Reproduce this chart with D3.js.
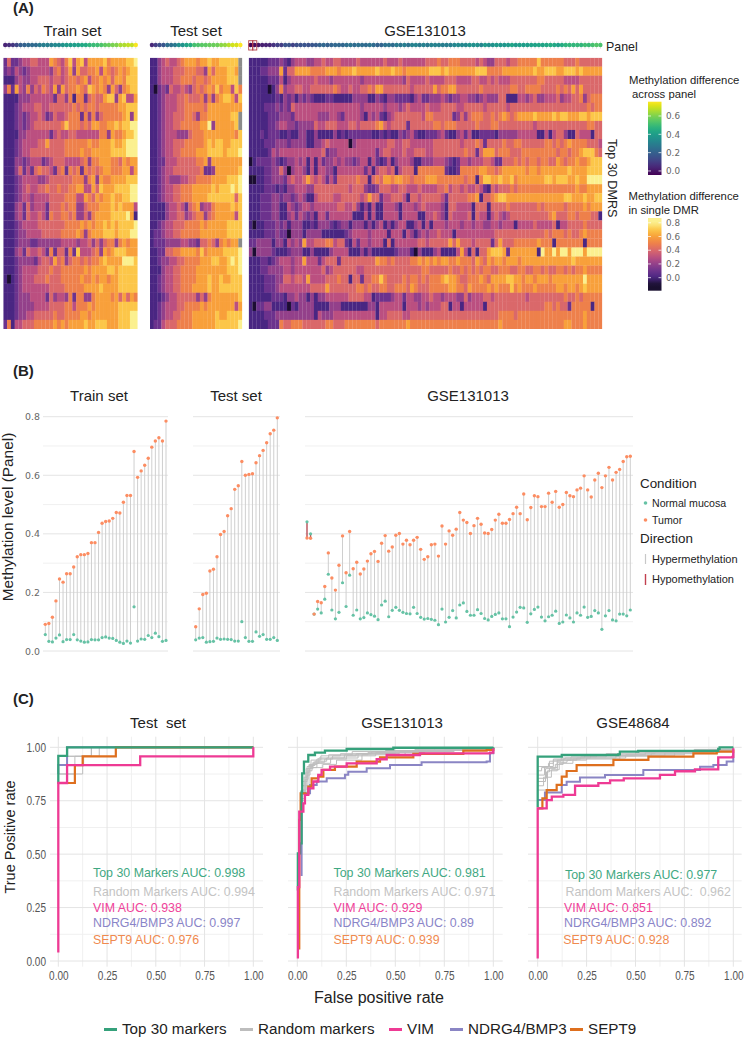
<!DOCTYPE html>
<html><head><meta charset="utf-8">
<script src="https://cdnjs.cloudflare.com/ajax/libs/d3/7.8.5/d3.min.js"></script>
<style>
html,body{margin:0;padding:0;background:#fff}
svg{display:block}
text{font-family:"Liberation Sans",Arial,sans-serif;fill:#222;white-space:pre}
.num{font-family:"DejaVu Sans",sans-serif;fill:#666}
.nar text{font-family:"Liberation Sans",sans-serif;fill:#555}
</style></head><body>
<svg id="c" width="744" height="1038"></svg>
<script>
// ---------- Panel B values (also colour the panel strip in A)
const trainTumor=[.091,.094,.115,.171,.246,.235,.264,.264,.287,.322,.329,.329,.333,.370,.370,.405,.436,.442,.444,.453,.473,.471,.508,.531,.531,.681,.593,.615,.634,.658,.696,.717,.728,.717,.785];
const trainNormal=[.056,.033,.031,.044,.055,.032,.039,.039,.056,.038,.034,.030,.031,.039,.038,.038,.046,.048,.044,.043,.036,.030,.026,.034,.027,.151,.034,.041,.040,.053,.046,.061,.049,.033,.036];
const testTumor=[.083,.144,.193,.197,.273,.279,.322,.398,.408,.462,.486,.552,.564,.647,.600,.603,.605,.643,.667,.685,.711,.742,.754,.796];
const testNormal=[.038,.044,.046,.030,.032,.033,.044,.040,.041,.040,.039,.034,.034,.100,.046,.033,.033,.065,.050,.056,.040,.040,.046,.036];
const gseTumor=[.386,.385,.126,.169,.165,.220,.335,.249,.208,.293,.393,.267,.408,.281,.303,.263,.280,.307,.332,.340,.306,.368,.394,.341,.355,.395,.401,.365,.378,.363,.378,.388,.347,.313,.322,.363,.365,.324,.427,.365,.410,.395,.416,.473,.447,.439,.401,.428,.453,.433,.403,.401,.415,.447,.467,.436,.436,.449,.469,.491,.469,.536,.448,.490,.530,.527,.493,.493,.539,.508,.545,.491,.500,.541,.530,.527,.550,.556,.598,.550,.526,.584,.607,.558,.598,.627,.584,.610,.620,.647,.663,.665];
const gseNormal=[.441,.400,.126,.143,.130,.177,.262,.140,.110,.132,.233,.152,.259,.122,.140,.110,.114,.130,.124,.119,.107,.157,.170,.117,.139,.149,.139,.132,.128,.127,.149,.128,.115,.109,.111,.108,.105,.090,.143,.099,.115,.138,.113,.157,.164,.135,.122,.122,.141,.128,.111,.106,.118,.125,.130,.110,.110,.083,.116,.133,.149,.147,.098,.127,.142,.150,.116,.103,.117,.122,.136,.094,.099,.123,.113,.099,.130,.122,.150,.115,.118,.138,.130,.074,.120,.138,.106,.103,.126,.126,.120,.140];
const methTicks=[0,.2,.4,.6,.8];

// ---------- Panel A heatmap: one digit per cell, value = (digit-1)/10, x = missing
const heatTrain=[
"2522344554 4476546847 8477778677 77889",
"2324323444 4435645737 5566747656 76788",
"1113433445 5545545665 6746676757 76888",
"3627436354 6547375667 6587676375 36788",
"1111333444 4442553616 6256557883 78447",
"1112344455 4455555565 6566566666 77888",
"1112323445 4235445666 2636356666 67838",
"1112323455 5555568666 5657766778 78899",
"1111334444 4424544554 4444466376 67889",
"1112344445 5755556666 6676677787 78999",
"1112344555 5555556666 7667777788 88999",
"1113323444 2345554444 5636677766 57677",
"1113524256 5542562656 2656567766 67747",
"1112344443 3455555566 6367376677 77888",
"1112345445 5655655667 7447587778 88899",
"1112344344 4455556664 4765767787 78899",
"1113425344 4255565663 3566677787 87774",
"1113425445 4265566563 3536777788 88971",
"1112344445 5555556666 7676778787 88889",
"1112334444 5555566667 6367778887 88899",
"1112333223 3333344443 4453535663 67677",
"1113425445 4262552628 4445637678 88777",
"1112333324 5547563566 5656678777 79998",
"1112344445 5565566666 6767777887 88888",
"1012344455 5655566666 7667677677 88888",
"1112344444 4455556666 6777787777 88888",
"1112333444 4253443626 6336777767 57576",
"1112333344 4455556646 6676777777 88888",
"1112334455 5556556666 7767777777 88899",
"2614455566 6667676777 7877888777 88899"];
const heatTest=[
"1134544567 7767787788 888x",
"1134445556 6655375777 887x",
"1134445566 6566567777 888x",
"1023254454 3565676867 7486",
"1123444556 5556363678 8748",
"1123444556 6666577777 7777",
"1123445556 6536677777 788x",
"1123445566 6667793777 778x",
"1123444333 5666777777 7768",
"1123445556 6666787887 7888",
"1123445566 6677788887 8889",
"1122444555 5566737777 7777",
"1123445555 5556223777 7778",
"1123433344 5566667777 8889",
"1123445566 6777778788 8989",
"1123445566 6777788888 8858",
"1111344542 5673446777 7878",
"1111344553 4566356777 7748",
"1123445556 6667677777 8888",
"1223445566 6667777777 8888",
"1222333344 3325565367 677x",
"1122556677 7768677778 8889",
"1123344556 6667778877 8989",
"1113445566 6677777777 8889",
"1123445566 6677787787 7888",
"1123445566 6777787788 8888",
"1112344555 5535367777 7778",
"1123444556 6667677777 7747",
"1123445566 6777777877 8888",
"1224555666 6777777888 8889"];
const heatGse=[
"1111122232 1344433445 4455444454 4444454445 4444445556 5566655554 5433555455 6666686666 6655565555 55",
"1112233372 5577776666 7776777877 7778777877 6777777888 7877777778 8866667777 7777877888 7788878777 77",
"1111122241 3444444544 4344444443 4444444444 3544445444 4555444455 4454544455 5555566555 5544445555 55",
"1111101363 4455445555 5565445445 5657755555 5545555575 6677555555 6555555566 5566665555 6565757555 55",
"1111111213 2313232111 2211111333 3113213322 2213422333 4323344332 3433355111 4434533444 5344556356 66",
"1111222323 2544444444 4444444443 4444434443 4544445444 5555445555 5455555455 5555555555 5555555565 66",
"1111122233 3244444433 3443244443 1434213455 5555546655 5552353566 6556567656 7777877778 7887778878 88",
"1111122344 3323333544 5554445545 5556754555 5255555566 5666555556 5556655555 5555455555 5555555566 55",
"1112122211 2113311311 1131212222 2211212113 2342112223 4211342411 2222133333 4444411414 5531154441 55",
"1111222333 2333311334 5444440344 4444445544 5544444455 5555545556 5255556556 6555555665 6567666655 54",
"1111124344 4444444445 2334444444 4442455444 5445554455 5555556552 5777566655 5666666666 5665667888 65",
"0122223212 3343414142 3343433234 4142124134 4431133344 4321244344 4554225556 5656656655 7656676678 88",
"1111223353 0344314144 3314444444 2414554514 5551666666 6211266666 7766567777 7767767777 7778777788 88",
"0011223332 4544575454 2425555565 5156577677 6656667776 6666665661 6887787786 7777777887 8887787799 99",
"1111222121 3344433555 5555554555 3223555445 5444544445 5645545445 4215455565 6666666666 6666676677 77",
"1112223323 3234311455 5544555554 5755244555 4155455555 4255555667 1556788777 7777777777 7788777877 88",
"1112223311 4323443444 4445544531 3141144431 4443454444 3155444415 5515555655 5555565666 6656666767 77",
"1112223311 3424323144 2444444111 4141144441 4444114454 3154444515 4414543455 5555555567 5556656665 51",
"1011222323 1333112133 3212331333 1313413134 4113414144 4344434434 4334434441 4444544445 1445555655 55",
"1111222322 0333133331 1111123444 4344441444 1431343445 4441444444 4444555555 5555555656 6656556766 66",
"2233331331 4343744555 6645521424 4344415144 4444554555 5575755545 5552575556 6666676661 6666666166 66",
"3033332111 2333113111 1344441113 1311111123 3310311134 1111474151 5578887277 7777719779 7997999799 99",
"1112212344 4344744424 5552555555 5557665655 5566767676 7766766657 6576776777 6777777777 7777877777 77",
"1112233334 4344444445 3455555544 5555555555 5555566555 5565565656 5665566655 6655665655 6656566766 66",
"1111222335 5455474444 5556551552 5566865555 6566565666 7877655666 7657777887 7677677767 7777777977 77",
"1111222344 4444445555 7555555566 5655665566 6576555666 6677665766 6676766686 7666766666 7767767877 77",
"1111112221 3343313133 4444445555 4412222344 2443344544 3444335344 4554555555 5545555555 5565565666 66",
"1022331111 0213333111 1333111111 1331444444 1444343444 5514414444 4155555555 5555555665 6552666661 66",
"1111222333 3333333143 3344444444 4441445555 4455555555 5555555555 5555566665 6666666666 6666666766 66",
"1111122265 5666555555 6655566666 6665666666 6766666666 6666666666 6666676666 6666666666 6677666766 66"];
const heatValues=[-.1,0,.1,.2,.3,.4,.5,.6,.7,.8];
const heatColors=["#1a1030","#4a2682","#6c338d","#93408a","#bb5080","#da686a","#ee804b","#f8a03a","#fcc648","#fbf08f"];
const heatLegendTicks=[0,.2,.4,.6,.8];
const panelLegendTicks=[0,.2,.4,.6];

// ---------- Panel C ROC curves: [fpr...],[tpr...]
const rocTicks=[0,.25,.5,.75,1];
const rocMinor=[.125,.375,.625,.875];
const t1Top30=[[0,0,.045,1],[.83,.96,1,1]];
const t1Vim=[[0,0,.045,.42,1,1],[.04,.833,.917,.958,.958,1]];
const t1Sept9=[[0,.085,.125,.295,1],[.833,.917,.958,1,1]];
const t1Ndrg=[[0,0,.045,1],[.875,.917,1,1]];
const t1Random=[[[0,.045,.085,.125,.17,1],[.875,.917,.958,.958,1,1]],[[0,.045,.085,.13,.17,1],[.833,.875,.917,.958,1,1]],[[0,.045,.125,.17,1],[.917,.958,.958,1,1]],[[0,.045,.085,.17,1],[.958,.958,.958,1,1]],[[0,.085,.125,.21,1],[.875,.875,.958,1,1]]];
const t2Top30=[[.003,.003,.014,.022,.025,.034,.056,.09,.141,.252,.49,1],[.33,.504,.55,.792,.878,.933,.964,.975,.984,.992,.998,1]];
const t2Vim=[[.003,.003,.01,.031,.039,.056,.082,.107,.124,.167,.252,.405,.456,.626,.983,1],[.012,.346,.699,.738,.777,.808,.84,.871,.894,.91,.925,.944,.964,.972,.975,.995]];
const t2Sept9=[[.003,.01,.017,.039,.056,.073,.107,.133,.192,.303,.422,.592,.847,.966,1],[.059,.66,.785,.782,.816,.855,.863,.894,.91,.933,.953,.969,.984,.988,.995]];
const t2Ndrg=[[.017,.022,.065,.099,.15,.243,.26,.354,.473,.634,.966,.983,1],[.402,.785,.824,.84,.855,.871,.886,.902,.917,.93,.933,.972,.995]];
const t2Random=[[[.02,.035,.05,.08,.14,.25,.4,.65,.85,1],[.75,.86,.91,.93,.945,.96,.975,.985,.99,1]],[[.02,.04,.06,.1,.18,.3,.5,.75,1],[.78,.88,.92,.945,.96,.97,.985,.99,1]],[[.025,.045,.07,.12,.22,.38,.6,1],[.80,.90,.94,.96,.97,.98,.99,1]],[[.02,.04,.055,.075,.13,.2,.33,.55,.8,1],[.76,.85,.89,.905,.92,.94,.965,.98,.99,1]],[[.03,.05,.08,.11,.16,.28,.45,.7,1],[.84,.9,.925,.95,.965,.98,.985,.995,1]],[[.025,.06,.09,.15,.24,.36,.62,.9,1],[.82,.915,.935,.95,.965,.975,.985,.99,1]],[[.022,.05,.065,.1,.17,.31,.52,.78,1],[.79,.87,.905,.925,.95,.97,.98,.99,1]]];
const t3Top30=[[0,0,.123,.412,.42,.514,.923,.93,1],[.72,.956,.964,.967,.98,.983,.993,1,1]];
const t3Vim=[[0,0,.046,.072,.131,.191,.31,.37,.44,.625,.702,.804,.923,.995,1],[.012,.714,.753,.769,.777,.82,.832,.845,.855,.871,.888,.897,.953,.955,.995]];
const t3Sept9=[[0,.024,.046,.097,.123,.148,.199,.387,.566,.796,.915,1],[.714,.761,.80,.824,.863,.889,.917,.941,.956,.972,.98,.99]];
const t3Ndrg=[[0,.037,.123,.148,.216,.344,.54,.83,.898,.966,1],[.753,.788,.824,.839,.859,.87,.894,.909,.917,.933,.977]];
const t3Random=[[[0,.05,.1,.15,.25,.4,.65,.9,1],[.80,.89,.93,.94,.95,.96,.975,.985,1]],[[0,.04,.09,.13,.22,.35,.6,.88,1],[.84,.9,.92,.945,.955,.97,.98,.99,1]],[[0,.035,.08,.2,.45,.75,1],[.87,.91,.94,.95,.965,.985,1]],[[0,.06,.12,.24,.5,.8,1],[.91,.935,.95,.96,.975,.99,1]],[[0,.03,.07,.11,.18,.42,.7,.95,1],[.82,.86,.895,.925,.945,.96,.98,.99,1]],[[0,.045,.06,.1,.17,.3,.55,.85,1],[.855,.885,.905,.94,.955,.965,.975,.985,1]],[[0,.02,.055,.08,.14,.27,.58,.92,1],[.89,.905,.925,.945,.95,.96,.97,.98,1]]];
const rocNames=["Top 30 markers","Random markers","VIM","NDRG4/BMP3","SEPT9"];
const rocLabels1=["Top 30 Markers AUC: 0.998","Random Markers AUC: 0.994","VIM AUC: 0.938","NDRG4/BMP3 AUC: 0.997","SEPT9 AUC: 0.976"];
const rocLabels2=["Top 30 Markers AUC: 0.981","Random Markers AUC: 0.971","VIM AUC: 0.929","NDRG4/BMP3 AUC: 0.89","SEPT9 AUC: 0.939"];
const rocLabels3=["Top 30 Markers AUC: 0.977","Random Markers AUC:  0.962","VIM AUC: 0.851","NDRG4/BMP3 AUC: 0.892","SEPT9 AUC: 0.928"];

// ---------- drawing
const svg=d3.select("#c");
const T=(x,y,s,o={})=>{const t=svg.append("text").attr("x",x).attr("y",y).text(s)
  .attr("font-size",o.size||12).attr("text-anchor",o.anchor||"start");
  if(o.fill)t.style("fill",o.fill); if(o.weight)t.attr("font-weight",o.weight);
  if(o.rot)t.attr("transform",`rotate(${o.rot} ${x} ${y})`); return t;};

T(13,12.5,"(A)",{size:15,weight:"bold"});
T(13,376,"(B)",{size:15,weight:"bold"});
T(13,704,"(C)",{size:15,weight:"bold"});

const defs=svg.append("defs");
defs.append("filter").attr("id","soft").attr("x","-2%").attr("y","-2%").attr("width","104%").attr("height","104%")
  .append("feGaussianBlur").attr("stdDeviation",.75);

// Panel A
const heatColor=d3.scaleLinear().domain(heatValues).range(heatColors).clamp(true);
const diffColor=d3.scaleSequential(d3.interpolateViridis).domain([-.044,.756]);
const rowY=d3.scaleBand().domain(d3.range(30)).range([57.7,329]);
function heat(rows,x0,x1,tumor,normal,title,tx,id){
  const data=rows.map(r=>r.replace(/ /g,""));
  const n=tumor.length;
  const x=d3.scaleBand().domain(d3.range(n)).range([x0,x1]);
  defs.append("clipPath").attr("id",id).append("rect").attr("x",x0).attr("y",57.7).attr("width",x1-x0).attr("height",271.3);
  const g=svg.append("g").attr("clip-path",`url(#${id})`).append("g").attr("filter","url(#soft)");
  data.forEach((r,i)=>{
    g.selectAll(null).data(r.split("")).join("rect")
     .attr("x",(d,j)=>x(j)-.1).attr("y",rowY(i)-.1).attr("width",x.bandwidth()+.2).attr("height",rowY.bandwidth()+.2)
     .attr("fill",d=>d==="x"?"#8b8b8b":heatColor((+d-1)/10));
  });
  const s=svg.append("g");
  const cx=i=>x(i)+x.bandwidth()/2;
  s.selectAll("line").data(tumor).join("line").attr("x1",(d,i)=>cx(i)).attr("x2",(d,i)=>cx(i))
   .attr("y1",41).attr("y2",49).attr("stroke","#dcdcdc").attr("stroke-width",.7);
  s.selectAll("circle").data(tumor).join("circle").attr("cx",(d,i)=>cx(i)).attr("cy",45).attr("r",2.2)
   .attr("fill",(d,i)=>diffColor(d-normal[i]));
  T(tx,36,title,{size:15,anchor:"middle"});
  return {x,cx};
}
heat(heatTrain,3.3,137.7,trainTumor,trainNormal,"Train set",72.5,"cA");
heat(heatTest,150,242.3,testTumor,testNormal,"Test set",196,"cB");
const gh=heat(heatGse,248.7,602.3,gseTumor,gseNormal,"GSE131013",425,"cC");
gseTumor.forEach((d,i)=>{ if(d<gseNormal[i]) svg.append("rect").attr("x",gh.x(i)).attr("y",40.7).attr("width",gh.x.bandwidth()+.4).attr("height",9.3)
  .attr("fill","none").attr("stroke","#b2404a").attr("stroke-width",.9);});
T(606,51,"Panel",{size:12.4});
T(607.5,139,"Top 30 DMRS",{size:12.6,rot:90});

// colour bars
function bar(id,y0,y1,scale,vTop,vBot,ticks){
  const gr=defs.append("linearGradient").attr("id",id).attr("x1",0).attr("x2",0).attr("y1",1).attr("y2",0);
  d3.range(0,1.0001,.05).forEach(t=>gr.append("stop").attr("offset",t).attr("stop-color",scale(vBot+(vTop-vBot)*t)));
  svg.append("rect").attr("x",648).attr("y",y0).attr("width",13.5).attr("height",y1-y0).attr("fill",`url(#${id})`);
  const yy=d3.scaleLinear().domain([vBot,vTop]).range([y1,y0]);
  ticks.forEach(v=>{
    svg.append("line").attr("x1",648).attr("x2",651).attr("y1",yy(v)).attr("y2",yy(v)).attr("stroke","#fff").attr("stroke-opacity",.7);
    svg.append("line").attr("x1",658.5).attr("x2",661.5).attr("y1",yy(v)).attr("y2",yy(v)).attr("stroke","#fff").attr("stroke-opacity",.7);
    T(666,yy(v)+3.2,v.toFixed(1),{size:8.8}).attr("class","num");
  });
}
T(629,84,"Methylation difference",{size:11.3});
T(632,98,"across panel",{size:11.3});
bar("gv",101.7,175,diffColor,.756,-.044,panelLegendTicks);
T(628.5,200,"Methylation difference",{size:11.3});
T(628.5,214,"in single DMR",{size:11.3});
bar("gh",218,290.7,heatColor,.87,-.19,heatLegendTicks);

// Panel B
const methY=d3.scaleLinear().domain([0,.8]).range([651,416.7]);
const normalC="#66c2a5",tumorC="#fc8d62";
function lolli(tumor,normal,gx0,gx1,px0,px1,title,tx,showAxis){
  const g=svg.append("g");
  d3.range(.1,.8,.2).forEach(v=>g.append("line").attr("x1",gx0).attr("x2",gx1).attr("y1",methY(v)).attr("y2",methY(v)).attr("stroke","#f0f0f0"));
  methTicks.forEach(v=>g.append("line").attr("x1",gx0).attr("x2",gx1).attr("y1",methY(v)).attr("y2",methY(v)).attr("stroke","#e4e4e4"));
  const x=d3.scalePoint().domain(d3.range(tumor.length)).range([px0,px1]);
  g.selectAll(null).data(tumor).join("line").attr("x1",(d,i)=>x(i)).attr("x2",(d,i)=>x(i))
   .attr("y1",d=>methY(d)).attr("y2",(d,i)=>methY(normal[i]))
   .attr("stroke",(d,i)=>d<normal[i]?"#b2404a":"#cfcfcf").attr("stroke-width",(d,i)=>d<normal[i]?1.3:1);
  g.selectAll(null).data(normal).join("circle").attr("cx",(d,i)=>x(i)).attr("cy",d=>methY(d)).attr("r",1.6).attr("fill",normalC);
  g.selectAll(null).data(tumor).join("circle").attr("cx",(d,i)=>x(i)).attr("cy",d=>methY(d)).attr("r",1.7).attr("fill",tumorC);
  T(tx,401,title,{size:15,anchor:"middle"});
  if(showAxis){
    const a=svg.append("g").attr("transform","translate(41,0)").call(d3.axisLeft(methY).tickValues(methTicks).tickFormat(d3.format(".1f")).tickSize(0));
    a.select(".domain").remove();
    a.selectAll("text").attr("class","num").attr("font-size",9.4).attr("x",-1);
  }
}
lolli(trainTumor,trainNormal,43,168,45.3,166,"Train set",99,true);
lolli(testTumor,testNormal,193,280,195.7,277.3,"Test set",236,false);
lolli(gseTumor,gseNormal,305,633,307,630.3,"GSE131013",468,false);
T(13,517,"Methylation level (Panel)",{size:15.4,anchor:"middle",rot:-90});
T(640,488,"Condition",{size:13.4});
svg.append("circle").attr("cx",645.5).attr("cy",503).attr("r",1.8).attr("fill",normalC);
T(652,507,"Normal mucosa",{size:10.6});
svg.append("circle").attr("cx",645.5).attr("cy",520).attr("r",1.8).attr("fill",tumorC);
T(652,524,"Tumor",{size:10.6});
T(640,543,"Direction",{size:13.4});
svg.append("line").attr("x1",645.5).attr("x2",645.5).attr("y1",554).attr("y2",564).attr("stroke","#c8c8c8").attr("stroke-width",1.2);
T(652,563,"Hypermethylation",{size:11});
svg.append("line").attr("x1",645.5).attr("x2",645.5).attr("y1",574).attr("y2",585).attr("stroke","#c2404f").attr("stroke-width",1.4);
T(652,583,"Hypomethylation",{size:11});

// Panel C
const rocColors={top:"#35a17b",rand:"#bdbdbd",vim:"#ee3a94",ndrg:"#8a85c4",sept:"#de6f1e"};
const rocTextColors=["#3fa882","#c4c4c4","#f0429a","#8a85c8","#ef8a4f"];
const rocY=d3.scaleLinear().domain([0,1]).range([961,747.3]);
function roc(x0,x1,ex0,ex1,curves,labels,lx,ly,title,tx,showY){
  const x=d3.scaleLinear().domain([0,1]).range([x0,x1]);
  const g=svg.append("g");
  const grid=(vals,col)=>vals.forEach(v=>{
    g.append("line").attr("x1",ex0).attr("x2",ex1).attr("y1",rocY(v)).attr("y2",rocY(v)).attr("stroke",col);
    g.append("line").attr("x1",x(v)).attr("x2",x(v)).attr("y1",736.7).attr("y2",966.7).attr("stroke",col);
  });
  grid(rocMinor,"#f0f0f0"); grid(rocTicks,"#e4e4e4");
  const line=d3.line().x(d=>x(d[0])).y(d=>rocY(d[1])).curve(d3.curveStepAfter);
  const pts=c=>c[0].map((v,i)=>[v,c[1][i]]);
  curves.rand.forEach(c=>g.append("path").attr("d",line(pts(c))).attr("fill","none").attr("stroke",rocColors.rand).attr("stroke-width",1));
  [["ndrg",2],["sept",2.2],["top",2.3],["vim",2.3]].forEach(([k,w])=>
    g.append("path").attr("d",line(pts(curves[k]))).attr("fill","none").attr("stroke",rocColors[k]).attr("stroke-width",w));
  labels.forEach((s,i)=>T(lx[i],ly[i],s,{size:12.4,fill:rocTextColors[i]}));
  T(tx,728,title,{size:15,anchor:"middle"});
  const ax=svg.append("g").attr("class","nar").attr("transform","translate(0,971)").call(d3.axisBottom(x).tickValues(rocTicks).tickFormat(d3.format(".2f")).tickSize(0));
  ax.select(".domain").remove();
  ax.selectAll("text").attr("font-size",13).attr("dy","0.71em").attr("y",0).attr("transform","scale(.77,1)");
  if(showY){
    const ay=svg.append("g").attr("class","nar").attr("transform","translate(46,0)").call(d3.axisLeft(rocY).tickValues(rocTicks).tickFormat(d3.format(".2f")).tickSize(0));
    ay.select(".domain").remove();
    ay.selectAll("text").attr("font-size",13).attr("x",0).attr("transform","scale(.77,1)");
  }
}
const ly=[877,896,911.5,926.5,943.5];
roc(58.3,253.3,50,263,{top:t1Top30,vim:t1Vim,sept:t1Sept9,ndrg:t1Ndrg,rand:t1Random},rocLabels1,[93,93,93,93,93],ly,"Test  set",158,true);
roc(297.3,493.3,288,502.7,{top:t2Top30,vim:t2Vim,sept:t2Sept9,ndrg:t2Ndrg,rand:t2Random},rocLabels2,[333.5,333.5,333.5,333.5,333.5],ly,"GSE131013",402,false);
roc(537.7,733.3,528,741.7,{top:t3Top30,vim:t3Vim,sept:t3Sept9,ndrg:t3Ndrg,rand:t3Random},rocLabels3,[565,565.5,564,564,563.3],[879,896,911.5,926.5,943.5],"GSE48684",633,false);
T(14.5,837,"True Positive rate",{size:14.5,anchor:"middle",rot:-90});
T(379,1003,"False positive rate",{size:16,anchor:"middle"});

// bottom legend
const legX=[104,240,389,450,570];
const legC=[rocColors.top,rocColors.rand,rocColors.vim,rocColors.ndrg,rocColors.sept];
rocNames.forEach((n,i)=>{
  svg.append("line").attr("x1",legX[i]).attr("x2",legX[i]+13).attr("y1",1029.5).attr("y2",1029.5).attr("stroke",legC[i]).attr("stroke-width",3);
  T(legX[i]+18,1034,n,{size:15.2});
});
</script>
</body></html>
